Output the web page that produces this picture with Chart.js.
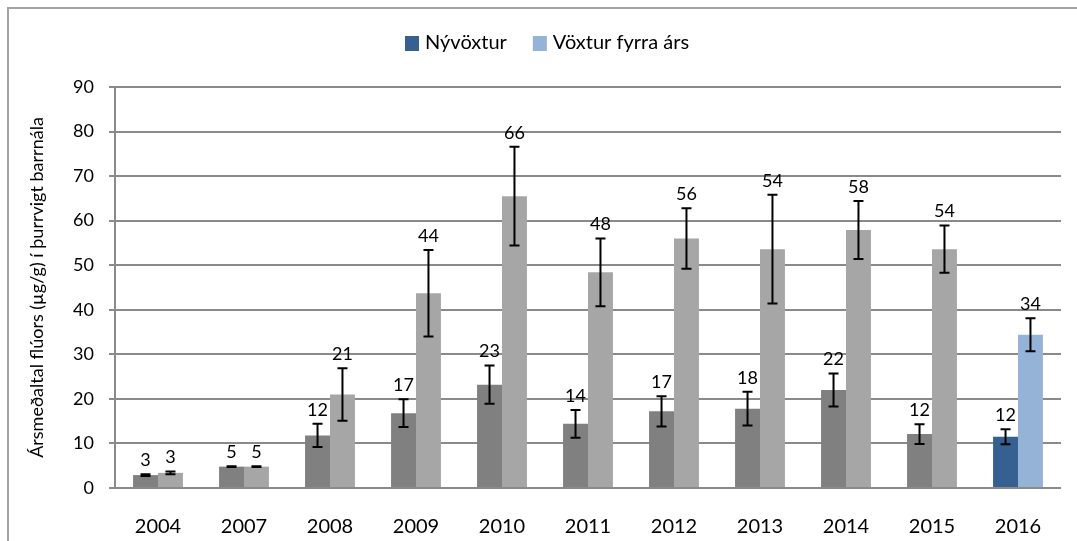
<!DOCTYPE html>
<html lang="is">
<head>
<meta charset="utf-8">
<title>Ársmeðaltal flúors í barrnálum</title>
<script src="https://cdn.jsdelivr.net/npm/chart.js@4.4.1/dist/chart.umd.min.js"></script>
<style>
    html, body {
        margin: 0;
        padding: 0;
        background: #fff;
        overflow: hidden;
    }
    #wrap {
        position: relative;
        width: 1077px;
        height: 541px;
    }
    #frame {
        position: absolute;
        left: 7px;
        top: 7px;
        width: 1200px;
        height: 600px;
        border-left: 2px solid #a3a3a3;
        border-top: 2px solid #a3a3a3;
    }
    #chart {
        position: absolute;
        left: 0;
        top: 0;
    }
</style>
</head>
<body>
<div id="wrap">
    <div id="frame"></div>
    <canvas id="chart" width="1077" height="541"></canvas>
</div>
<script>
// Ár
const years = ['2004', '2007', '2008', '2009', '2010', '2011', '2012', '2013', '2014', '2015', '2016'];

// Nývöxtur: meðaltal og skekkja (µg/g)
const nyvoxtur = [2.9, 4.8, 11.8, 16.8, 23.2, 14.4, 17.2, 17.8, 22.0, 12.1, 11.5];
const nyvoxturError = [0.2, 0.1, 2.6, 3.1, 4.3, 3.1, 3.4, 3.8, 3.7, 2.2, 1.7];

// Vöxtur fyrra árs: meðaltal og skekkja (µg/g)
const fyrraAr = [3.4, 4.8, 21.0, 43.7, 65.5, 48.4, 56.0, 53.6, 57.9, 53.6, 34.4];
const fyrraArError = [0.3, 0.1, 5.9, 9.7, 11.1, 7.6, 6.8, 12.2, 6.5, 5.3, 3.7];

const seriesNames = ['Nývöxtur', 'Vöxtur fyrra árs'];

const Y_MIN = 0;
const Y_MAX = 90;
const Y_STEP = 10;

const CURRENT_YEAR = '2016';
const COLORS = Object.freeze({
    newDark: '#376092',
    oldLight: '#95b3d7',
    grayDark: '#808080',
    grayLight: '#a6a6a6',
    grid: '#8a8a8a',
    text: '#000000',
});

const FONT = 'Lato, "Open Sans", "DejaVu Sans", sans-serif';

function barColors(highlight, normal) {
    return years.map((year) => (year === CURRENT_YEAR ? highlight : normal));
}

// Error bars + value labels on top of each bar
const errorBarsPlugin = {
    id: 'errorBars',
    afterDatasetsDraw(chart) {
        const ctx = chart.ctx;
        const yScale = chart.scales.y;
        chart.data.datasets.forEach((dataset, di) => {
            const meta = chart.getDatasetMeta(di);
            meta.data.forEach((bar, i) => {
                const value = dataset.data[i];
                const err = dataset.errors[i];
                const yTop = yScale.getPixelForValue(value + err);
                const yBottom = yScale.getPixelForValue(value - err);

                ctx.save();
                ctx.strokeStyle = '#000';
                ctx.lineWidth = 2;
                ctx.beginPath();
                ctx.moveTo(bar.x, yTop);
                ctx.lineTo(bar.x, yBottom);
                ctx.moveTo(bar.x - 5, yTop);
                ctx.lineTo(bar.x + 5, yTop);
                ctx.moveTo(bar.x - 5, yBottom);
                ctx.lineTo(bar.x + 5, yBottom);
                ctx.stroke();

                ctx.fillStyle = COLORS.text;
                ctx.font = `18px ${FONT}`;
                ctx.textAlign = 'center';
                ctx.textBaseline = 'middle';
                ctx.fillText(String(Math.round(value)), bar.x, yTop - 14);
                ctx.restore();
            });
        });
    },
};

// Legend with the 2016 colours only
const legendPlugin = {
    id: 'yearLegend',
    afterDraw(chart) {
        const ctx = chart.ctx;
        const colors = [COLORS.newDark, COLORS.oldLight];
        let x = 405;
        const y = 43;
        ctx.save();
        ctx.font = `20px ${FONT}`;
        ctx.textBaseline = 'middle';
        ctx.textAlign = 'left';
        seriesNames.forEach((name, i) => {
            ctx.fillStyle = colors[i];
            ctx.fillRect(x, y - 7, 14, 15);
            x += 20;
            ctx.fillStyle = COLORS.text;
            ctx.fillText(name, x, y);
            x += ctx.measureText(name).width + 26;
        });
        ctx.restore();
    },
};

const canvas = document.getElementById('chart');

new Chart(canvas.getContext('2d'), {
    type: 'bar',
    data: {
        labels: years,
        datasets: [
            {
                label: seriesNames[0],
                data: nyvoxtur,
                errors: nyvoxturError,
                backgroundColor: barColors(COLORS.newDark, COLORS.grayDark),
                borderWidth: 0,
                categoryPercentage: 0.58,
                barPercentage: 1.0,
            },
            {
                label: seriesNames[1],
                data: fyrraAr,
                errors: fyrraArError,
                backgroundColor: barColors(COLORS.oldLight, COLORS.grayLight),
                borderWidth: 0,
                categoryPercentage: 0.58,
                barPercentage: 1.0,
            },
        ],
    },
    options: {
        responsive: false,
        animation: false,
        layout: {
            padding: {left: 0, top: 87, right: 16, bottom: 0},
        },
        plugins: {
            legend: {display: false},
            tooltip: {enabled: false},
        },
        scales: {
            x: {
                grid: {display: false},
                border: {display: false},
                ticks: {
                    color: COLORS.text,
                    font: {family: FONT, size: 20},
                    padding: 19,
                    maxRotation: 0,
                },
                afterFit(scale) {
                    scale.height = 53;
                },
            },
            y: {
                min: Y_MIN,
                max: Y_MAX,
                ticks: {
                    stepSize: Y_STEP,
                    color: COLORS.text,
                    font: {family: FONT, size: 18},
                    padding: 15,
                },
                grid: {
                    color: COLORS.grid,
                    lineWidth: 2,
                    tickLength: 6,
                },
                border: {
                    color: COLORS.grid,
                    width: 2,
                },
                title: {
                    display: true,
                    text: 'Ársmeðaltal flúors (µg/g) í þurrvigt barrnála',
                    color: COLORS.text,
                    font: {family: FONT, size: 18},
                    padding: {top: 26, bottom: 0},
                },
                afterFit(scale) {
                    scale.width = 115;
                },
            },
        },
    },
    plugins: [errorBarsPlugin, legendPlugin],
});
</script>
</body>
</html>
